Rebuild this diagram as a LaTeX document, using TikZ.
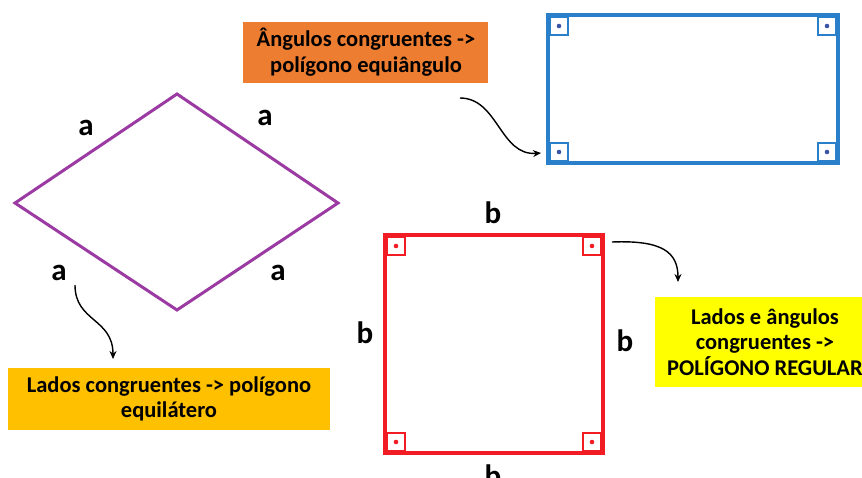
\documentclass[tikz,border=0pt]{standalone}
\usepackage{fontspec}
\setmainfont{Carlito}
\usetikzlibrary{arrows.meta}
\definecolor{boxorange}{HTML}{ED7D31}
\definecolor{boxgold}{HTML}{FFC000}
\definecolor{boxyellow}{HTML}{FFFF00}
\definecolor{rectblue}{HTML}{2A7FCB}
\definecolor{dotblue}{HTML}{3A55A8}
\definecolor{sqred}{HTML}{F21C24}
\definecolor{rhpurple}{HTML}{9A3AA2}
\tikzset{
  lbl/.style={font=\fontsize{31}{33}\selectfont\bfseries, inner sep=0pt},
  infobox/.style={font=\fontsize{22.5}{25.5}\selectfont\bfseries, align=center, inner sep=0pt, anchor=center},
  curvearrow/.style={line width=1.4pt, -{Stealth[length=8pt,width=7pt]}},
}
\begin{document}
\begin{tikzpicture}[x=1pt,y=-1pt]
\useasboundingbox (0,0) rectangle (862,477);
% orange box
\fill[boxorange] (243,22) rectangle (488,83);
\node[infobox] (torange) at (366,52) {Ângulos congruentes ->\\polígono equiângulo};
% blue rectangle
\draw[rectblue, line width=4.5pt] (548,15) rectangle (838,163);
\foreach \cx/\cy/\sx/\sy in {550/17/1/1, 836/17/-1/1, 550/161/1/-1, 836/161/-1/-1}{
  \draw[rectblue, line width=2pt] (\cx,\cy) rectangle ++(18*\sx,18*\sy);
  \fill[dotblue] (\cx+9*\sx,\cy+9*\sy) circle (2.3pt);
}
\coordinate (oa) at (460,98);
\coordinate (ob) at (541,153);
\draw[curvearrow] (oa) .. controls (498,98) and (500,156) .. (ob);
% rhombus
\coordinate (rl) at (15,203);
\coordinate (rt) at (177,94);
\coordinate (rr) at (338,203);
\coordinate (rb) at (177,310);
\draw[rhpurple, line width=3pt, line join=miter] (rl) -- (rt) -- (rr) -- (rb) -- cycle;
\node[lbl] (a1) at (86,128) {a};
\node[lbl] (a2) at (265,118) {a};
\node[lbl] (a3) at (59,273) {a};
\node[lbl] (a4) at (278,273) {a};
% gold box
\fill[boxgold] (8,368) rectangle (330,430);
\node[infobox] (tgold) at (169,399) {Lados congruentes -> polígono\\equilátero};
\coordinate (ga) at (75,285);
\coordinate (gb) at (113,359);
\draw[curvearrow] (ga) .. controls (75,322) and (113,318) .. (gb);
% red square
\draw[sqred, line width=4.5pt] (385,235) rectangle (603,453);
\foreach \cx/\cy/\sx/\sy in {387/237/1/1, 601/237/-1/1, 387/451/1/-1, 601/451/-1/-1}{
  \draw[sqred, line width=2pt] (\cx,\cy) rectangle ++(18*\sx,18*\sy);
  \fill[sqred] (\cx+9*\sx,\cy+9*\sy) circle (2.3pt);
}
\node[lbl] (b1) at (493,213) {b};
\node[lbl] (b2) at (365,333) {b};
\node[lbl] (b3) at (625,341) {b};
\node[lbl] (b4) at (493,476) {b};
% yellow box
\fill[boxyellow] (655,297) rectangle (875,387);
\node[infobox] (tyellow) at (765,342) {Lados e ângulos\\congruentes ->\\POLÍGONO REGULAR};
\coordinate (ya) at (612,242);
\coordinate (yb) at (678,282);
\draw[curvearrow] (ya) .. controls (662,240) and (678,252) .. (yb);
\end{tikzpicture}
\end{document}
